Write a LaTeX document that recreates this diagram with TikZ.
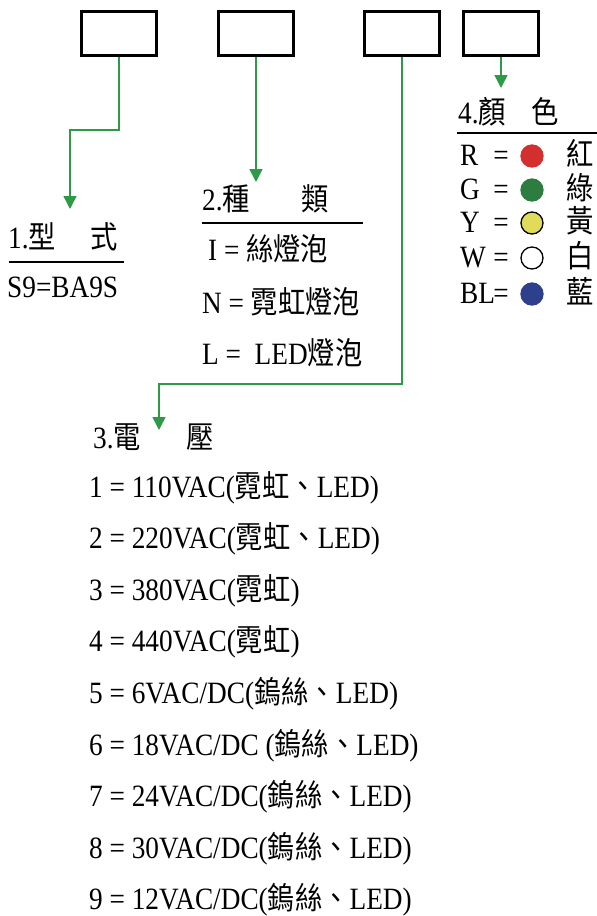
\documentclass[tikz,border=0pt]{standalone}
\usepackage{fontspec}
\setmainfont{Liberation Serif}[FakeStretch=0.88]
\newfontfamily\cjk{Noto Sans CJK TC}[FakeStretch=0.88]
\usepackage{xcolor}
\usepackage{tikz}
\usetikzlibrary{arrows.meta,positioning,calc}
\definecolor{linkgreen}{RGB}{46,154,72}
\definecolor{ledred}{RGB}{211,47,47}
\definecolor{ledgreen}{RGB}{46,125,64}
\definecolor{ledyellow}{RGB}{224,220,90}
\definecolor{ledblue}{RGB}{46,64,140}

\begin{document}
\begin{tikzpicture}[x=1pt,y=-1pt,
  every node/.style={font=\fontsize{31}{36}\selectfont, inner sep=0pt, anchor=base west},
  codebox/.style={draw, line width=3pt, minimum width=75pt, minimum height=44pt, anchor=center},
  link/.style={draw=linkgreen, line width=1.5pt, -{Triangle[width=13pt,length=13pt]}},
  rule/.style={line width=2.5pt}]
\useasboundingbox (0,0) rectangle (597,916);

\node[codebox] (b1) at (119,33.5) {};
\node[codebox] (b2) at (256,33.5) {};
\node[codebox] (b3) at (402,33.5) {};
\node[codebox] (b4) at (501,33.5) {};

\coordinate (a1) at (70,209);
\coordinate (a2) at (256,182);
\coordinate (a3) at (159,430);
\coordinate (a4) at (501,88);
\draw[link] (b1.south) -- ++(0,73) -| (a1);
\draw[link] (b2.south) -- (a2);
\draw[link] (b3.south) -- ++(0,327) -| (a3);
\draw[link] (b4.south) -- (a4);

% 1
\node (t1) at (8,248) {1.{\cjk 型}\hspace{35pt}{\cjk 式}};
\draw[rule] (9,262) -- (124,262);
\node (s9) at (7,297) {S9=BA9S};

% 2
\node (t2) at (202,210) {2.{\cjk 種}\hspace{52pt}{\cjk 類}};
\draw[rule] (202,223) -- (363,223);
\node (k1) at (208,260) {I = {\cjk 絲燈泡}};
\node (k2) at (202,313) {N = {\cjk 霓虹燈泡}};
\node (k3) at (202,364) {L = \ LED{\cjk 燈泡}};

% 3
\node (t3) at (93,448) {3.{\cjk 電}\hspace{46pt}{\cjk 壓}};
\foreach \i/\txt in {1/{1 = 110VAC({\cjk 霓虹、}LED)},2/{2 = 220VAC({\cjk 霓虹、}LED)},
  3/{3 = 380VAC({\cjk 霓虹})},4/{4 = 440VAC({\cjk 霓虹})},
  5/{5 = 6VAC/DC({\cjk 鎢絲、}LED)},6/{6 = 18VAC/DC ({\cjk 鎢絲、}LED)},
  7/{7 = 24VAC/DC({\cjk 鎢絲、}LED)},8/{8 = 30VAC/DC({\cjk 鎢絲、}LED)},
  9/{9 = 12VAC/DC({\cjk 鎢絲、}LED)}}{
  \node (v\i) at (89,{497+51.6*(\i-1)}) {\txt};
}

% 4
\node (t4) at (458,123) {4.{\cjk 顏}\hspace{26pt}{\cjk 色}};
\draw[rule] (457,133) -- (597,133);
\foreach \k/\y/\fc/\dc/\ch in {R/165.5/ledred/ledred/紅,G/199.5/ledgreen/ledgreen/綠,
  Y/232.5/ledyellow/black/黃,W/267.5/white/black/白,BL/303.5/ledblue/ledblue/藍}{
  \node (l\k) at (460,\y) {\k};
  \node[anchor=base] (e\k) at (501,\y) {=};
  \node[circle, anchor=center, minimum size=22pt, fill=\fc, draw=\dc, line width=1.3pt] (c\k) at (532,\y-9.5) {};
  \node (n\k) at (566,\y) {\cjk \ch};
}
\end{tikzpicture}
\end{document}
